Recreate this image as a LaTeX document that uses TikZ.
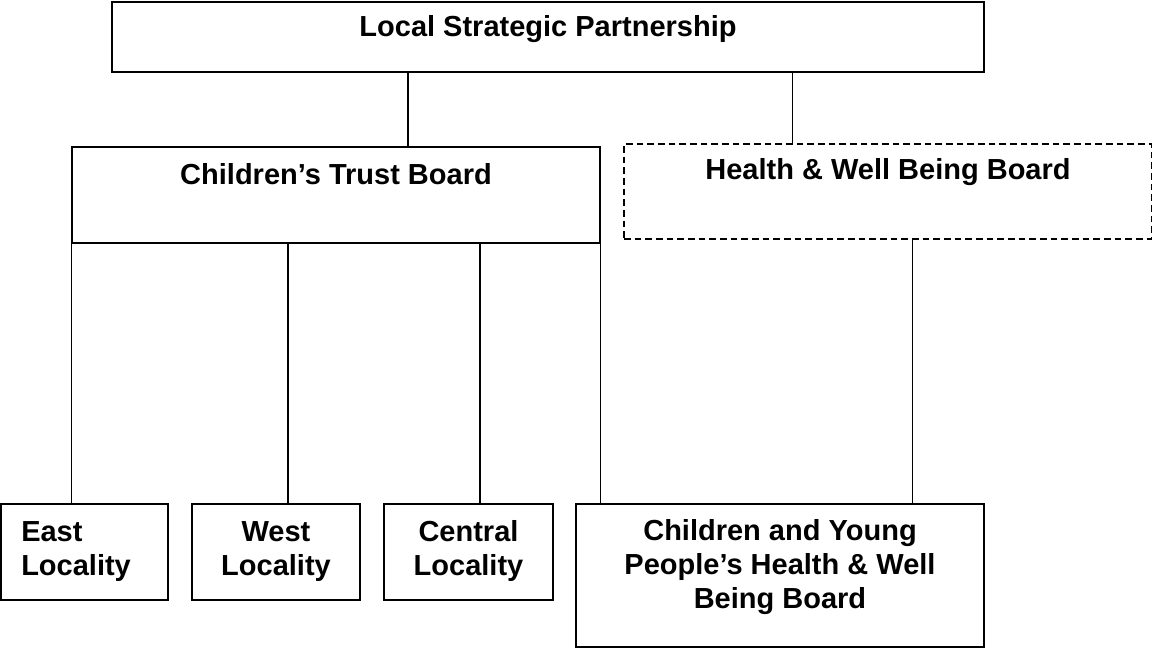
\documentclass[tikz,border=0pt]{standalone}
\usepackage{fontspec}
\setmainfont{Liberation Sans}
\usetikzlibrary{positioning}

\begin{document}
\begin{tikzpicture}[x=0.75pt, y=-0.75pt,
  box/.style={draw, line width=1pt, inner sep=0pt},
  dashbox/.style={box, dash pattern=on 5pt off 3pt},
  lbl/.style={font=\bfseries\fontsize{21.75}{25.5}\selectfont, inner sep=0pt}]
  \useasboundingbox (0,0) rectangle (1153,648);
  % boxes
  \node [box, minimum width=654pt, minimum height=52.5pt] (lsp) at (548,37) {};
  \node [box, minimum width=396pt, minimum height=72pt] (ctb) at (336,195) {};
  \node [dashbox, minimum width=395.6pt, minimum height=71.25pt] (hwb) at (887.8,191.5) {};
  \node [box, minimum width=125.25pt, minimum height=72pt] (east) at (84.5,552) {};
  \node [box, minimum width=126pt, minimum height=72pt] (west) at (276,552) {};
  \node [box, minimum width=126.75pt, minimum height=72pt] (central) at (468.5,552) {};
  \node [box, minimum width=306pt, minimum height=107.25pt] (cyp) at (780,575.5) {};
  % texts (base = last line)
  \node [lbl, anchor=base] (lsp-t) at (548,37) {Local Strategic Partnership};
  \node [lbl, anchor=base] (ctb-t) at (336,185) {Children’s Trust Board};
  \node [lbl, anchor=base] (hwb-t) at (888,180) {Health \& Well Being Board};
  \node [lbl, anchor=base west, align=left] (east-t) at (21,575) {East\\Locality};
  \node [lbl, anchor=base, align=center] (west-t) at (276,575) {West\\Locality};
  \node [lbl, anchor=base, align=center] (central-t) at (468.5,575) {Central\\Locality};
  \node [lbl, anchor=base, align=center] (cyp-t) at (780,608) {Children and Young\\People’s Health \& Well\\Being Board};
  % connectors
  \draw [line width=1pt] ([xshift=54pt]ctb.north) -- ([xshift=54pt]ctb.north |- lsp.south);
  \draw [line width=1pt] ([xshift=-71.25pt]hwb.north) -- ([xshift=-71.25pt]hwb.north |- lsp.south);
  \draw [line width=1pt] (ctb.south west) -- (ctb.south west |- east.north);
  \draw [line width=1pt] ([xshift=9pt]west.north) -- ([xshift=9pt]west.north |- ctb.south);
  \draw [line width=1pt] ([xshift=8.6pt]central.north) -- ([xshift=8.6pt]central.north |- ctb.south);
  \draw [line width=1pt] (ctb.south east) -- (ctb.south east |- cyp.north);
  \draw [line width=1pt] ([xshift=18.75pt]hwb.south) -- ([xshift=18.75pt]hwb.south |- cyp.north);
\end{tikzpicture}
\end{document}
